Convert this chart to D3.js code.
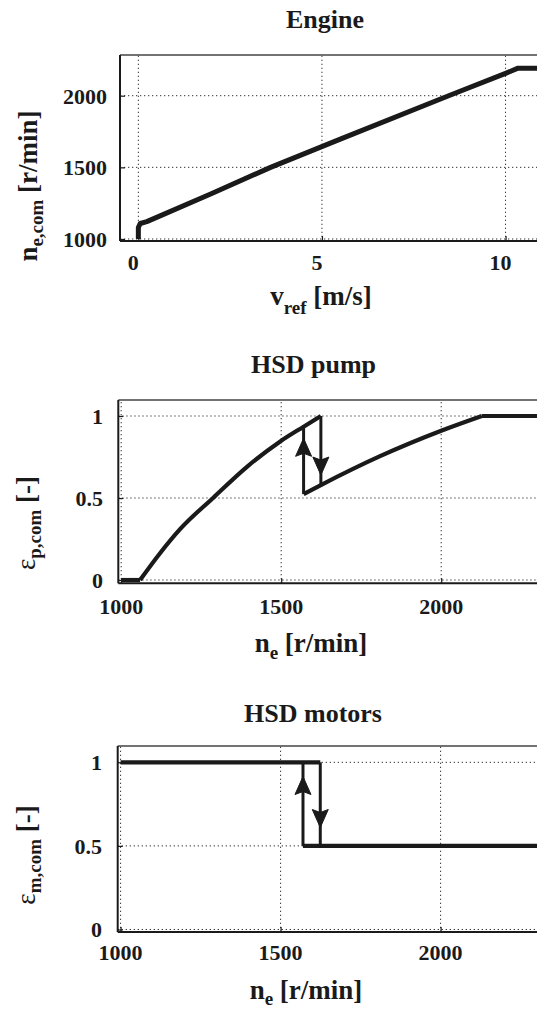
<!DOCTYPE html>
<html>
<head>
<meta charset="utf-8">
<script src="https://cdn.jsdelivr.net/npm/d3@7"></script>
<style>
  html, body { margin: 0; padding: 0; background: #fff; }
  svg { display: block; }
  svg text { font-family: 'Liberation Serif', 'Times New Roman', Times, serif; font-weight: 700; fill: #1a1a1a; }
</style>
</head>
<body>
<script>
// ---------------- DATA ----------------
// Panel 1: Engine
const engineTitle = "Engine";
const engineXTicks = [0, 5, 10];
const engineYTicks = [1000, 1500, 2000];
const engineVref = [0, 0, 0.05, 0.23, 2, 3.6, 5.5, 8.45, 10, 10.34, 12];
const engineNe   = [1000, 1080, 1108, 1121, 1318, 1500, 1697, 2000, 2156, 2192, 2192];

// Panel 2: HSD pump
const pumpTitle = "HSD pump";
const neTicks = [1000, 1500, 2000];
const epsTicks = [0, 0.5, 1];
const epsTickLabels = ["0", "0.5", "1"];
const pumpFlatNe  = [1000, 1059];
const pumpFlatEps = [0, 0];
const pumpUpNe  = [1059, 1122, 1184, 1288, 1393, 1497, 1570, 1624];
const pumpUpEps = [0, 0.165, 0.31, 0.502, 0.690, 0.845, 0.935, 1.0];
const pumpHiNe  = [1570, 1624, 1809, 2000, 2127];
const pumpHiEps = [0.524, 0.579, 0.755, 0.910, 1.0];
const pumpTopNe = [2127, 2400], pumpTopEps = [1.0, 1.0];
const pumpDropNe = [1624, 1624], pumpDropEps = [1.0, 0.579];
const pumpRiseNe = [1570, 1570], pumpRiseEps = [0.524, 0.935];
const pumpArrowNe  = [1570, 1624];
const pumpArrowTip = [0.864, 0.64];
const pumpArrowDir = ["up", "down"];

// Panel 3: HSD motors
const motorTitle = "HSD motors";
const motorHighNe = [1000, 1624], motorHighEps = [1, 1];
const motorLowNe  = [1570, 2400], motorLowEps  = [0.5, 0.5];
const motorDropNe = [1624, 1624], motorDropEps = [1, 0.5];
const motorRiseNe = [1570, 1570], motorRiseEps = [0.5, 1];
const motorArrowNe  = [1570, 1624];
const motorArrowTip = [0.915, 0.61];
const motorArrowDir = ["up", "down"];

// ---------------- DRAWING ----------------
const W = 537, H = 1010;
const FONT = "'Liberation Serif', 'Times New Roman', Times, serif";
const svg = d3.select("body").append("svg").attr("width", W).attr("height", H)
  .attr("font-family", FONT).attr("font-weight", "bold");
const INK = "#1a1a1a";

function panel(cfg) {
  const g = svg.append("g");
  const x = d3.scaleLinear().domain(cfg.xDomain).range(cfg.xRange);
  const y = d3.scaleLinear().domain(cfg.yDomain).range(cfg.yRange);
  const [x0, x1] = cfg.xRange, [y0, y1] = cfg.yRange; // y0 bottom, y1 top

  // grid (dotted)
  const grid = g.append("g").attr("stroke", "#333").attr("stroke-width", 1)
    .attr("stroke-dasharray", "1.3,2.7");
  grid.selectAll("line.gx").data(cfg.xTicks).join("line")
    .attr("x1", d => x(d)).attr("x2", d => x(d)).attr("y1", y0).attr("y2", y1);
  grid.selectAll("line.gy").data(cfg.yTicks).join("line")
    .attr("x1", x0).attr("x2", x1).attr("y1", d => y(d)).attr("y2", d => y(d));

  // inward ticks via d3 axes
  const xAx = g.append("g").attr("transform", `translate(0,${y0})`)
    .call(d3.axisTop(x).tickValues(cfg.xTicks).tickSize(5).tickFormat(""));
  const yAx = g.append("g").attr("transform", `translate(${x0},0)`)
    .call(d3.axisRight(y).tickValues(cfg.yTicks).tickSize(5).tickFormat(""));
  [xAx, yAx].forEach(a => { a.select(".domain").remove(); a.selectAll("line").attr("stroke", INK).attr("stroke-width", 1.2); });

  // frame
  g.append("line").attr("x1", x0).attr("x2", x1).attr("y1", y1).attr("y2", y1)
    .attr("stroke", "#444").attr("stroke-width", 1.6);
  g.append("line").attr("x1", x0).attr("x2", x0).attr("y1", y0).attr("y2", y1)
    .attr("stroke", INK).attr("stroke-width", 2);
  g.append("line").attr("x1", x0).attr("x2", x1).attr("y1", y0).attr("y2", y0)
    .attr("stroke", INK).attr("stroke-width", 2);

  // tick labels
  g.selectAll("text.xt").data(cfg.xTicks).join("text")
    .attr("x", d => x(d) + cfg.xLabelDx).attr("y", cfg.xTickBase)
    .attr("text-anchor", "middle").attr("font-size", 22).text(d => d);
  g.selectAll("text.yt").data(cfg.yTicks).join("text")
    .attr("x", cfg.yTickEnd).attr("y", d => y(d)).attr("dy", "0.36em")
    .attr("text-anchor", "end").attr("font-size", 22)
    .text((d, i) => cfg.yTickLabels ? cfg.yTickLabels[i] : d);

  // title
  g.append("text").attr("x", cfg.titleX).attr("y", cfg.titleY)
    .attr("text-anchor", "middle").attr("font-size", 26).text(cfg.title);

  // x label
  const xl = g.append("text").attr("x", cfg.xlabX).attr("y", cfg.xlabY)
    .attr("text-anchor", "middle").attr("font-size", 27);
  xl.append("tspan").text(cfg.xlab[0]);
  xl.append("tspan").attr("font-size", 19).attr("dy", cfg.subDy).text(cfg.xlab[1]);
  xl.append("tspan").attr("dy", -cfg.subDy).text(cfg.xlab[2]);

  // y label (rotated)
  const yl = g.append("text")
    .attr("transform", `translate(${cfg.ylabX},${cfg.ylabY}) rotate(-90)`)
    .attr("text-anchor", "middle").attr("font-size", 27);
  yl.append("tspan").attr("font-weight", cfg.ylabMainWeight || "bold").text(cfg.ylab[0]);
  yl.append("tspan").attr("font-size", 19).attr("dy", 6).text(cfg.ylab[1]);
  yl.append("tspan").attr("dy", -6).text(cfg.ylab[2]);

  return { g, x, y };
}

function drawLine(p, xs, ys, width, curve) {
  const line = d3.line().x(d => p.x(d[0])).y(d => p.y(d[1])).curve(curve || d3.curveLinear);
  p.g.append("path").datum(d3.zip(xs, ys)).attr("d", line)
    .attr("fill", "none").attr("stroke", INK).attr("stroke-width", width)
    .attr("stroke-linejoin", "round").attr("stroke-linecap", "butt");
}

function drawArrows(p, ns, tips, dirs) {
  const L = 18, hw = 8, notch = 3;
  p.g.selectAll("path.arrow").data(d3.range(ns.length)).join("path")
    .attr("d", i => {
      const tx = p.x(ns[i]), ty = p.y(tips[i]);
      const s = dirs[i] === "up" ? 1 : -1;
      return `M${tx},${ty} L${tx - hw},${ty + s * L} L${tx},${ty + s * (L - notch)} L${tx + hw},${ty + s * L} Z`;
    })
    .attr("fill", INK).attr("stroke", INK).attr("stroke-width", 1).attr("stroke-linejoin", "round");
}

// Panel 1
const p1 = panel({
  xDomain: [-0.5, 12], xRange: [120, 579],
  yDomain: [986, 2284], yRange: [241, 55],
  xTicks: engineXTicks, yTicks: engineYTicks,
  xLabelDx: -5, xTickBase: 270, yTickEnd: 107,
  title: engineTitle, titleX: 325, titleY: 28,
  xlab: ["v", "ref", " [m/s]"], xlabX: 321, xlabY: 305, subDy: 9,
  ylab: ["n", "e,com", " [r/min]"], ylabX: 37, ylabY: 186
});
drawLine(p1, engineVref, engineNe, 5);

// Panel 2
const p2 = panel({
  xDomain: [991, 2400], xRange: [118.3, 569.2],
  yDomain: [-0.02, 1.0976], yRange: [583.3, 400],
  xTicks: neTicks, yTicks: epsTicks, yTickLabels: epsTickLabels,
  xLabelDx: 0, xTickBase: 614, yTickEnd: 103,
  title: pumpTitle, titleX: 313.5, titleY: 372.5,
  xlab: ["n", "e", " [r/min]"], xlabX: 311, xlabY: 651.5, subDy: 7,
  ylab: ["ε", "p,com", " [-]"], ylabX: 35, ylabY: 523, ylabMainWeight: "normal"
});
drawLine(p2, pumpFlatNe, pumpFlatEps, 4.2);
drawLine(p2, pumpUpNe, pumpUpEps, 4.2, d3.curveMonotoneX);
drawLine(p2, pumpHiNe, pumpHiEps, 4.2, d3.curveMonotoneX);
drawLine(p2, pumpTopNe, pumpTopEps, 4.2);
drawLine(p2, pumpDropNe, pumpDropEps, 3);
drawLine(p2, pumpRiseNe, pumpRiseEps, 3);
drawArrows(p2, pumpArrowNe, pumpArrowTip, pumpArrowDir);

// Panel 3
const p3 = panel({
  xDomain: [991, 2400], xRange: [117.7, 568.6],
  yDomain: [-0.015, 1.0975], yRange: [932, 746],
  xTicks: neTicks, yTicks: epsTicks, yTickLabels: epsTickLabels,
  xLabelDx: 0, xTickBase: 959.5, yTickEnd: 102,
  title: motorTitle, titleX: 313, titleY: 721.5,
  xlab: ["n", "e", " [r/min]"], xlabX: 306, xlabY: 999, subDy: 6,
  ylab: ["ε", "m,com", " [-]"], ylabX: 35, ylabY: 855, ylabMainWeight: "normal"
});
drawLine(p3, motorHighNe, motorHighEps, 4.2);
drawLine(p3, motorLowNe, motorLowEps, 4.2);
drawLine(p3, motorDropNe, motorDropEps, 3);
drawLine(p3, motorRiseNe, motorRiseEps, 3);
drawArrows(p3, motorArrowNe, motorArrowTip, motorArrowDir);
</script>
</body>
</html>
